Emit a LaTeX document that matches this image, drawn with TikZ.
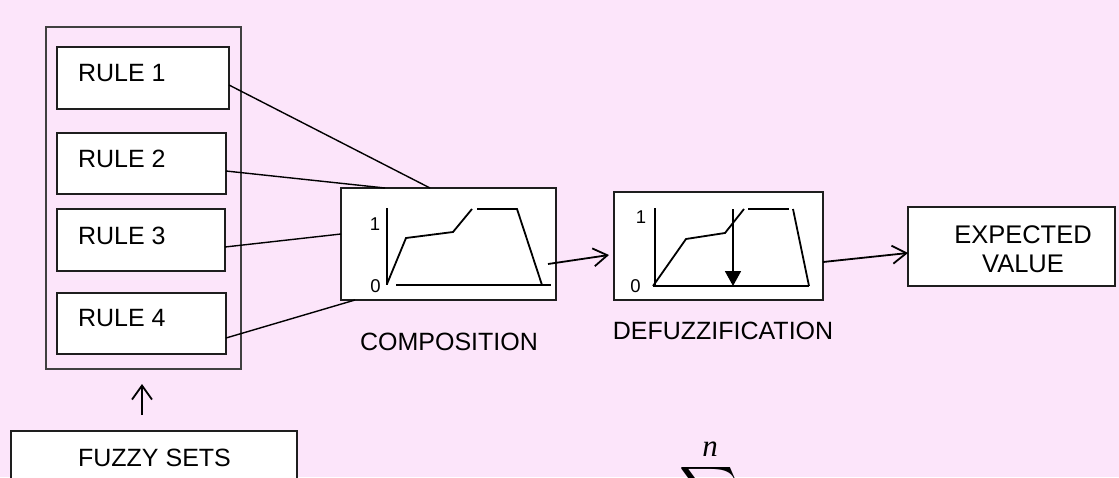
\documentclass[tikz,border=0pt]{standalone}
\usepackage{amsmath}
\usepackage{graphicx}
\usepackage{fontspec}
\setmainfont{Liberation Sans}
\newfontfamily\serifit{Liberation Serif}
\usetikzlibrary{arrows.meta}
\definecolor{bgpink}{RGB}{252,229,250}
\definecolor{edge}{RGB}{30,30,30}
\tikzset{
  box/.style={draw=edge, line width=1.8pt, fill=white, inner sep=0pt, outer sep=0pt},
  groupbox/.style={draw=edge!85, line width=1.8pt, inner sep=0pt, outer sep=0pt},
  txt/.style={inner sep=0pt, outer sep=0pt, font=\fontsize{25}{29}\selectfont},
  small/.style={inner sep=0pt, outer sep=0pt, font=\fontsize{18.5}{20}\selectfont},
  conn/.style={draw=black, line width=1.4pt},
  curve/.style={draw=black, line width=1.8pt},
  openarrow/.style={draw=black, line width=1.8pt, -{Straight Barb[length=14pt,width=18pt,line width=1.8pt]}},
}
\begin{document}
\begin{tikzpicture}[x=1pt,y=-1pt]
\useasboundingbox (0,0) rectangle (1119,477);
\fill[bgpink] (0,0) rectangle (1119,477);
\clip (0,0) rectangle (1119,477);

% rule group
\node[groupbox, minimum width=195pt, minimum height=342pt] (grp) at (143.5,198) {};
\node[box, minimum width=172pt, minimum height=62pt] (r1) at (143,78) {};
\node[box, minimum width=169pt, minimum height=61pt] (r2) at (141.5,163.5) {};
\node[box, minimum width=168pt, minimum height=62pt] (r3) at (141,240) {};
\node[box, minimum width=169pt, minimum height=61pt] (r4) at (141.5,323.5) {};
\node[txt, anchor=west] (t1) at (78,73) {RULE 1};
\node[txt, anchor=west] (t2) at (78,158.5) {RULE 2};
\node[txt, anchor=west] (t3) at (78,236) {RULE 3};
\node[txt, anchor=west] (t4) at (78,318.5) {RULE 4};

% fuzzy sets
\node[box, minimum width=286pt, minimum height=80pt] (fz) at (154,471) {};
\node[txt] (fzt) at (154.5,457.5) {FUZZY SETS};
\coordinate (upS) at (142,415);
\coordinate (upE) at (142,384);
\draw[draw=black, line width=1.8pt, -{Straight Barb[length=14pt,width=20pt,line width=1.8pt]}] (upS) -- (upE);

% composition
\node[box, minimum width=215pt, minimum height=112pt] (comp) at (448.5,244) {};
\node[small] (c1) at (375,224) {1};
\node[small] (c0) at (375.5,286.5) {0};
\draw[curve] (387,208) -- (387,285);
\draw[curve] (396,285) -- (551,285);
\draw[curve] (387,284) -- (406,238) -- (453,232) -- (472,209);
\draw[curve] (477,209) -- (517,209) -- (542,285);
\node[txt] (compl) at (449,342) {COMPOSITION};

% connectors from rules
\coordinate (c1in) at (430,188);
\coordinate (c2in) at (385,188);
\coordinate (c3in) at (341,234);
\coordinate (c4in) at (355,300);
\draw[conn] (r1.east |- 0,85) -- (c1in);
\draw[conn] (r2.east |- 0,171) -- (c2in);
\draw[conn] (r3.east |- 0,247) -- (c3in);
\draw[conn] (r4.east |- 0,338) -- (c4in);

% defuzzification
\node[box, minimum width=209pt, minimum height=108pt] (defz) at (718.5,246) {};
\node[small] (d1) at (641,217.5) {1};
\node[small] (d0) at (635.5,286.5) {0};
\draw[curve] (655,208) -- (655,286);
\draw[curve] (653,286) -- (809,286);
\draw[curve] (653,286) -- (686,239) -- (725,233) -- (744,209);
\draw[curve] (748,209) -- (789,209);
\draw[curve] (793,209) -- (809,286);
\coordinate (dvS) at (733,209);
\coordinate (dvE) at (733,286);
\draw[draw=black, line width=1.8pt, -{Triangle[length=15pt,width=16pt]}] (dvS) -- (dvE);
\node[txt] (defl) at (723,331) {DEFUZZIFICATION};

% expected value
\node[box, minimum width=207pt, minimum height=79pt] (ev) at (1011.5,246.5) {};
\node[txt, align=center, font=\fontsize{25.5}{29}\selectfont] (evt) at (1023,249) {EXPECTED\\VALUE};

% arrows
\coordinate (a1s) at (548,264);
\coordinate (a1e) at (609,255);
\draw[openarrow] (a1s) -- (a1e);
\coordinate (a2s) at (823,262);
\draw[openarrow] (a2s) -- (ev.west |- 0,253);

% partial formula
\node[inner sep=0pt, outer sep=0pt, anchor=north] (sum) at (708,463) {\resizebox{58pt}{!}{$\displaystyle\sum$}};
\node[inner sep=0pt, outer sep=0pt, font=\fontsize{31}{31}\serifit\itshape] (nn) at (710,449) {n};
\end{tikzpicture}
\end{document}
